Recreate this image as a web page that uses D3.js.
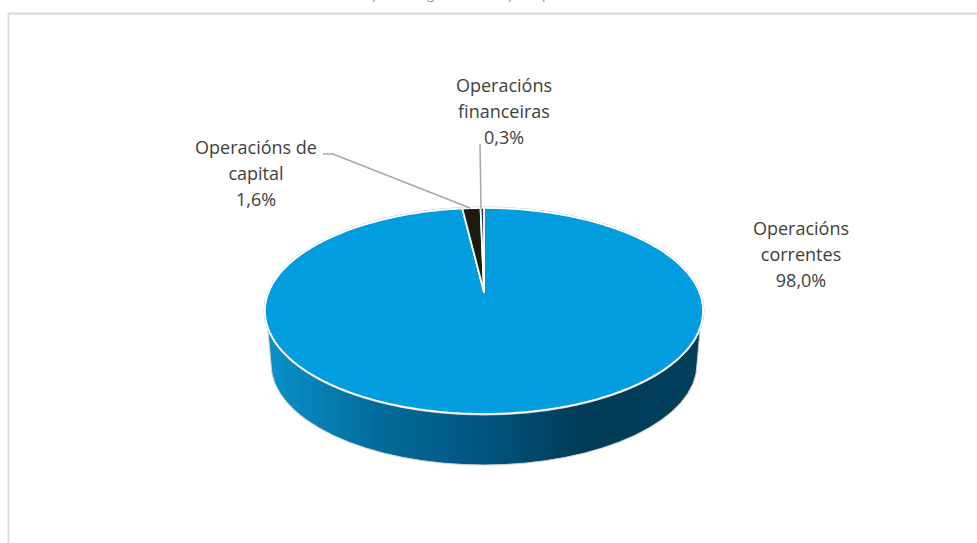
<!DOCTYPE html>
<html>
<head>
<meta charset="utf-8">
<script src="https://cdn.jsdelivr.net/npm/d3@7/dist/d3.min.js"></script>
<style>
html,body{margin:0;padding:0;background:#fff;overflow:hidden}
svg{display:block}
text{font-family:"Open Sans",sans-serif;font-size:18px;fill:#404040}
</style>
</head>
<body>
<script>
const categories = ["Operacións correntes", "Operacións de capital", "Operacións financeiras"];
const shares = [98.0, 1.6, 0.3];
const labelLines = [["Operacións", "correntes", "98,0%"], ["Operacións de", "capital", "1,6%"], ["Operacións", "financeiras", "0,3%"]];
const sliceColors = ["#019ddf", "#1d1a10", "#1f3864"];

const W = 977, H = 543;
const cx = 484, topCy = 311, rx = 219, ry = 103, apexY = 292;
const botCy = 364, botRx = 213, botRy = 101;
// perspective of the tilted disc: the centre of the circle projects to apexY
const persp = 0.184, discR = 215.3, discH = 99.5;

const svg = d3.select("body").append("svg").attr("width", W).attr("height", H);

// clipped heading: only its descenders are visible in the reference
svg.append("text").attr("x", "372 427 508 542").attr("y", -1)
  .style("font-size", "13px").style("fill", "#4a9bd8").text("pgpp");

// frame
svg.append("path").attr("d", `M8.5,${H}V13.5H${W}`).attr("fill", "none")
  .attr("stroke", "#d9d9d9").attr("stroke-width", 1.8);

const grad = svg.append("defs").append("linearGradient").attr("id", "side")
  .attr("gradientUnits", "userSpaceOnUse")
  .attr("x1", cx - rx).attr("x2", cx + rx).attr("y1", 0).attr("y2", 0);
grad.selectAll("stop").data([[0, "#0a92ca"], [0.25, "#016c9c"], [0.5, "#01557f"], [0.72, "#013b58"], [1, "#013f5c"]])
  .join("stop").attr("offset", d => d[0]).attr("stop-color", d => d[1]);

// side wall
const leftEdge = 327;
const xAtTop = y => rx * Math.sqrt(1 - ((y - topCy) / ry) ** 2);
const sideD = `M${cx - xAtTop(leftEdge)},${leftEdge}L${cx - botRx},${botCy}`
  + `A${botRx},${botRy} 0 0 0 ${cx + botRx},${botCy}`
  + `L${cx + xAtTop(leftEdge)},${leftEdge}`
  + `A${rx},${ry} 0 0 0 ${cx - xAtTop(leftEdge)},${leftEdge}Z`;
svg.append("path").attr("d", sideD).attr("fill", "url(#side)")
  .attr("stroke", "#d0d0d0").attr("stroke-width", 1);

// top outline
svg.append("ellipse").attr("cx", cx).attr("cy", topCy).attr("rx", rx + 1).attr("ry", ry + 1)
  .attr("fill", "none").attr("stroke", "#c8c8c8").attr("stroke-width", 1);

// slices, starting at 12 o'clock and going clockwise
const pie = d3.pie().sort(null).value(d => d);
const arcs = pie(shares);
const rim = a => {
  const w = 1 + persp * Math.cos(a);
  return [cx + discR * Math.sin(a) / w, apexY - discH * Math.cos(a) / w];
};
function slicePath(d) {
  const p = d3.path();
  p.moveTo(cx, apexY);
  const n = Math.max(2, Math.ceil((d.endAngle - d.startAngle) * 60));
  d3.range(n + 1).forEach(i => {
    const a = d.startAngle + (d.endAngle - d.startAngle) * i / n;
    const [x, y] = rim(a);
    p.lineTo(x, y);
  });
  p.closePath();
  return p.toString();
}
svg.selectAll("path.slice").data(arcs).join("path").attr("class", "slice")
  .attr("d", slicePath).attr("fill", (d, i) => sliceColors[i])
  .attr("stroke", "#fff").attr("stroke-width", 1.8).attr("stroke-linejoin", "round");

// leader lines
const line = d3.line();
const leaders = [[[323, 154], [333, 154], [470, 208]], [[480, 144], [481, 209]]];
svg.selectAll("path.leader").data(leaders).join("path").attr("class", "leader")
  .attr("d", line).attr("fill", "none").attr("stroke", "#a6a6a6").attr("stroke-width", 1.5);

// labels
const labelPos = [[801, 235], [256, 154], [504, 92]];
const lineStep = 26;
svg.selectAll("g.label").data(labelLines).join("g").attr("class", "label")
  .attr("transform", (d, i) => `translate(${labelPos[i][0]},${labelPos[i][1]})`)
  .selectAll("text").data(d => d).join("text")
  .attr("text-anchor", "middle").attr("y", (d, i) => i * lineStep).text(d => d);
</script>
</body>
</html>
